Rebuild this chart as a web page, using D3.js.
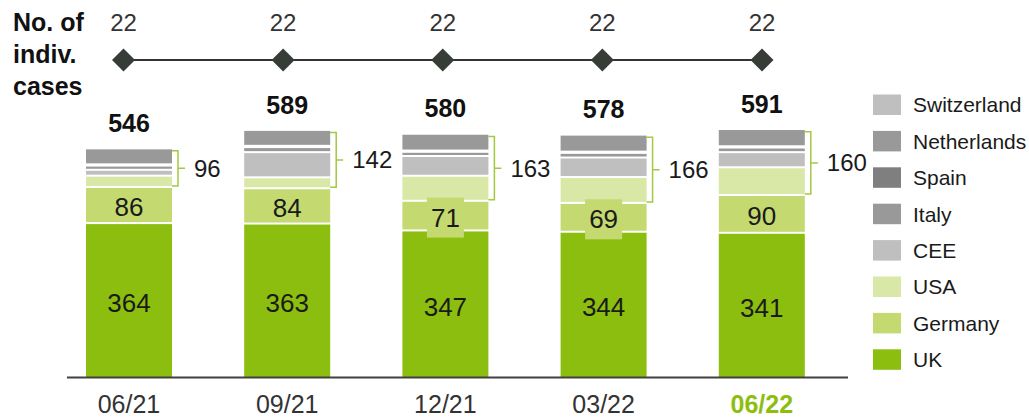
<!DOCTYPE html>
<html>
<head>
<meta charset="utf-8">
<script src="https://cdn.jsdelivr.net/npm/d3@7/dist/d3.min.js"></script>
<style>
  html, body { margin: 0; padding: 0; background: #fff; }
  svg { display: block; font-family: "Liberation Sans", Arial, Helvetica, sans-serif; }
</style>
</head>
<body>
<svg id="chart" width="1029" height="418"></svg>
<script>
// Quarter-end reporting dates
const categories = ["06/21", "09/21", "12/21", "03/22", "06/22"];
// Number of individual cases per date
const cases = [22, 22, 22, 22, 22];

// Stacked series, bottom to top
const seriesNames = ["UK", "Germany", "USA", "CEE", "Italy", "Spain", "Netherlands", "Switzerland"];
const uk          = [364, 363, 346.6, 343.5, 341];
const germany     = [86, 84, 70.6, 68.6, 90];
const usa         = [27, 26, 59.6, 61.6, 66];
const cee         = [14, 60, 47, 46.5, 36];
const italy       = [10, 12, 10, 11, 11];
const spain       = [3, 3, 3, 3, 3];
const netherlands = [38, 38, 40, 40.5, 41];
const switzerland = [4, 3, 3, 3, 3];

const seriesColors = ["#8cbe0f", "#c4d96f", "#d9e7a7", "#bfbfbf", "#999999", "#7f7f7f", "#999999", "#bfbfbf"];
const seriesValues = [uk, germany, usa, cee, italy, spain, netherlands, switzerland];

const rows = categories.map((c, i) => {
  const r = { cat: c };
  seriesNames.forEach((s, j) => { r[s] = seriesValues[j][i]; });
  return r;
});

const svg = d3.select("#chart");
const fmt = v => String(Math.round(v));

const x = d3.scaleBand().domain(categories).range([86, 804.8]).paddingInner(0.4564).paddingOuter(0);
const y = d3.scaleLinear().domain([0, 600]).range([377, 125]);

const stack = d3.stack().keys(seriesNames);
const stacked = stack(rows);
const GAP = 2;

// Stacked segments
stacked.forEach((layer, li) => {
  svg.append("g").selectAll("rect").data(layer).join("rect")
    .attr("x", d => x(d.data.cat))
    .attr("width", x.bandwidth())
    .attr("y", d => y(d[1]))
    .attr("height", d => Math.max(0, y(d[0]) - y(d[1]) - (li === 0 ? 0 : GAP)))
    .attr("fill", seriesColors[li]);
});

// Value labels for UK and Germany segments
[0, 1].forEach(li => {
  const layer = stacked[li];
  const g = svg.append("g");
  layer.forEach(d => {
    const cx = x(d.data.cat) + x.bandwidth() / 2;
    const cy = (y(d[0]) + y(d[1])) / 2 + (li === 0 ? 2.5 : 1);
    const h = y(d[0]) - y(d[1]);
    if (h < 32) {
      g.append("rect")
        .attr("x", cx - 18.5).attr("y", cy - 20)
        .attr("width", 37).attr("height", 40)
        .attr("fill", seriesColors[li]);
    }
    g.append("text")
      .attr("x", cx).attr("y", cy)
      .attr("dy", "0.35em")
      .attr("text-anchor", "middle")
      .attr("font-size", 26)
      .attr("fill", "#1a1a1a")
      .text(fmt(d[1] - d[0]));
  });
});

// Bracket + sum for the remaining markets
const braceColor = "#a3c940";
rows.forEach((r, i) => {
  const base = r.UK + r.Germany;
  const rest = seriesNames.slice(2).reduce((s, k) => s + r[k], 0);
  const yTop = y(base + rest) + 3;
  const yBot = y(base) - 2;
  const xr = x(r.cat) + x.bandwidth();
  const xv = xr + 6;
  const ym = (yTop + yBot) / 2;
  svg.append("path")
    .attr("d", `M${xr},${yTop}H${xv}V${yBot}H${xr}M${xv},${ym}H${xv + 7}`)
    .attr("fill", "none")
    .attr("stroke", braceColor)
    .attr("stroke-width", 1.5);
  svg.append("text")
    .attr("x", xv + 16).attr("y", ym)
    .attr("dy", "0.35em")
    .attr("font-size", 24)
    .attr("fill", "#1a1a1a")
    .text(fmt(rest));
});

// Totals above bars
rows.forEach(r => {
  const total = seriesNames.reduce((s, k) => s + r[k], 0);
  svg.append("text")
    .attr("x", x(r.cat) + x.bandwidth() / 2)
    .attr("y", y(total) - 16)
    .attr("text-anchor", "middle")
    .attr("font-size", 25)
    .attr("font-weight", "bold")
    .attr("fill", "#111")
    .text(fmt(total));
});

// Baseline
svg.append("line")
  .attr("x1", 67).attr("x2", 848)
  .attr("y1", 377.5).attr("y2", 377.5)
  .attr("stroke", "#404040").attr("stroke-width", 2);

// Category axis
const xAxis = svg.append("g")
  .attr("transform", "translate(0,377)")
  .call(d3.axisBottom(x).tickSize(0).tickPadding(0));
xAxis.select(".domain").remove();
xAxis.selectAll("text")
  .attr("y", 36)
  .attr("dy", 0)
  .attr("font-size", 25)
  .attr("font-family", "Liberation Sans, Arial, sans-serif")
  .attr("fill", (d, i) => i === categories.length - 1 ? "#8cbe0f" : "#333")
  .attr("font-weight", (d, i) => i === categories.length - 1 ? "bold" : "normal");

// Case-count row
const xp = d3.scalePoint().domain(categories).range([123.5, 762]);
svg.append("line")
  .attr("x1", xp(categories[0])).attr("x2", xp(categories[categories.length - 1]))
  .attr("y1", 60).attr("y2", 60)
  .attr("stroke", "#333").attr("stroke-width", 2);
svg.append("g").selectAll("path").data(categories).join("path")
  .attr("d", c => `M${xp(c)},${48.5}L${xp(c) + 11.5},60L${xp(c)},${71.5}L${xp(c) - 11.5},60Z`)
  .attr("fill", "#363d36");
svg.append("g").selectAll("text").data(categories).join("text")
  .attr("x", c => xp(c))
  .attr("y", 31)
  .attr("text-anchor", "middle")
  .attr("font-size", 24)
  .attr("fill", "#333")
  .text((c, i) => cases[i]);

const rowTitle = svg.append("text")
  .attr("x", 13)
  .attr("font-size", 25)
  .attr("font-weight", "bold")
  .attr("fill", "#111");
["No. of", "indiv.", "cases"].forEach((t, i) => {
  rowTitle.append("tspan").attr("x", 13).attr("y", 31 + i * 32).text(t);
});

// Legend, top entry is the top of the stack
const legendItems = seriesNames.map((n, i) => ({ name: n, color: seriesColors[i] })).reverse();
const lg = svg.append("g").selectAll("g").data(legendItems).join("g")
  .attr("transform", (d, i) => `translate(873,${94.5 + i * 36.4})`);
lg.append("rect")
  .attr("width", 28).attr("height", 20.5)
  .attr("fill", d => d.color);
lg.append("text")
  .attr("x", 40).attr("y", 10.5)
  .attr("dy", "0.35em")
  .attr("font-size", 21)
  .attr("fill", "#1a1a1a")
  .text(d => d.name);
</script>
</body>
</html>
